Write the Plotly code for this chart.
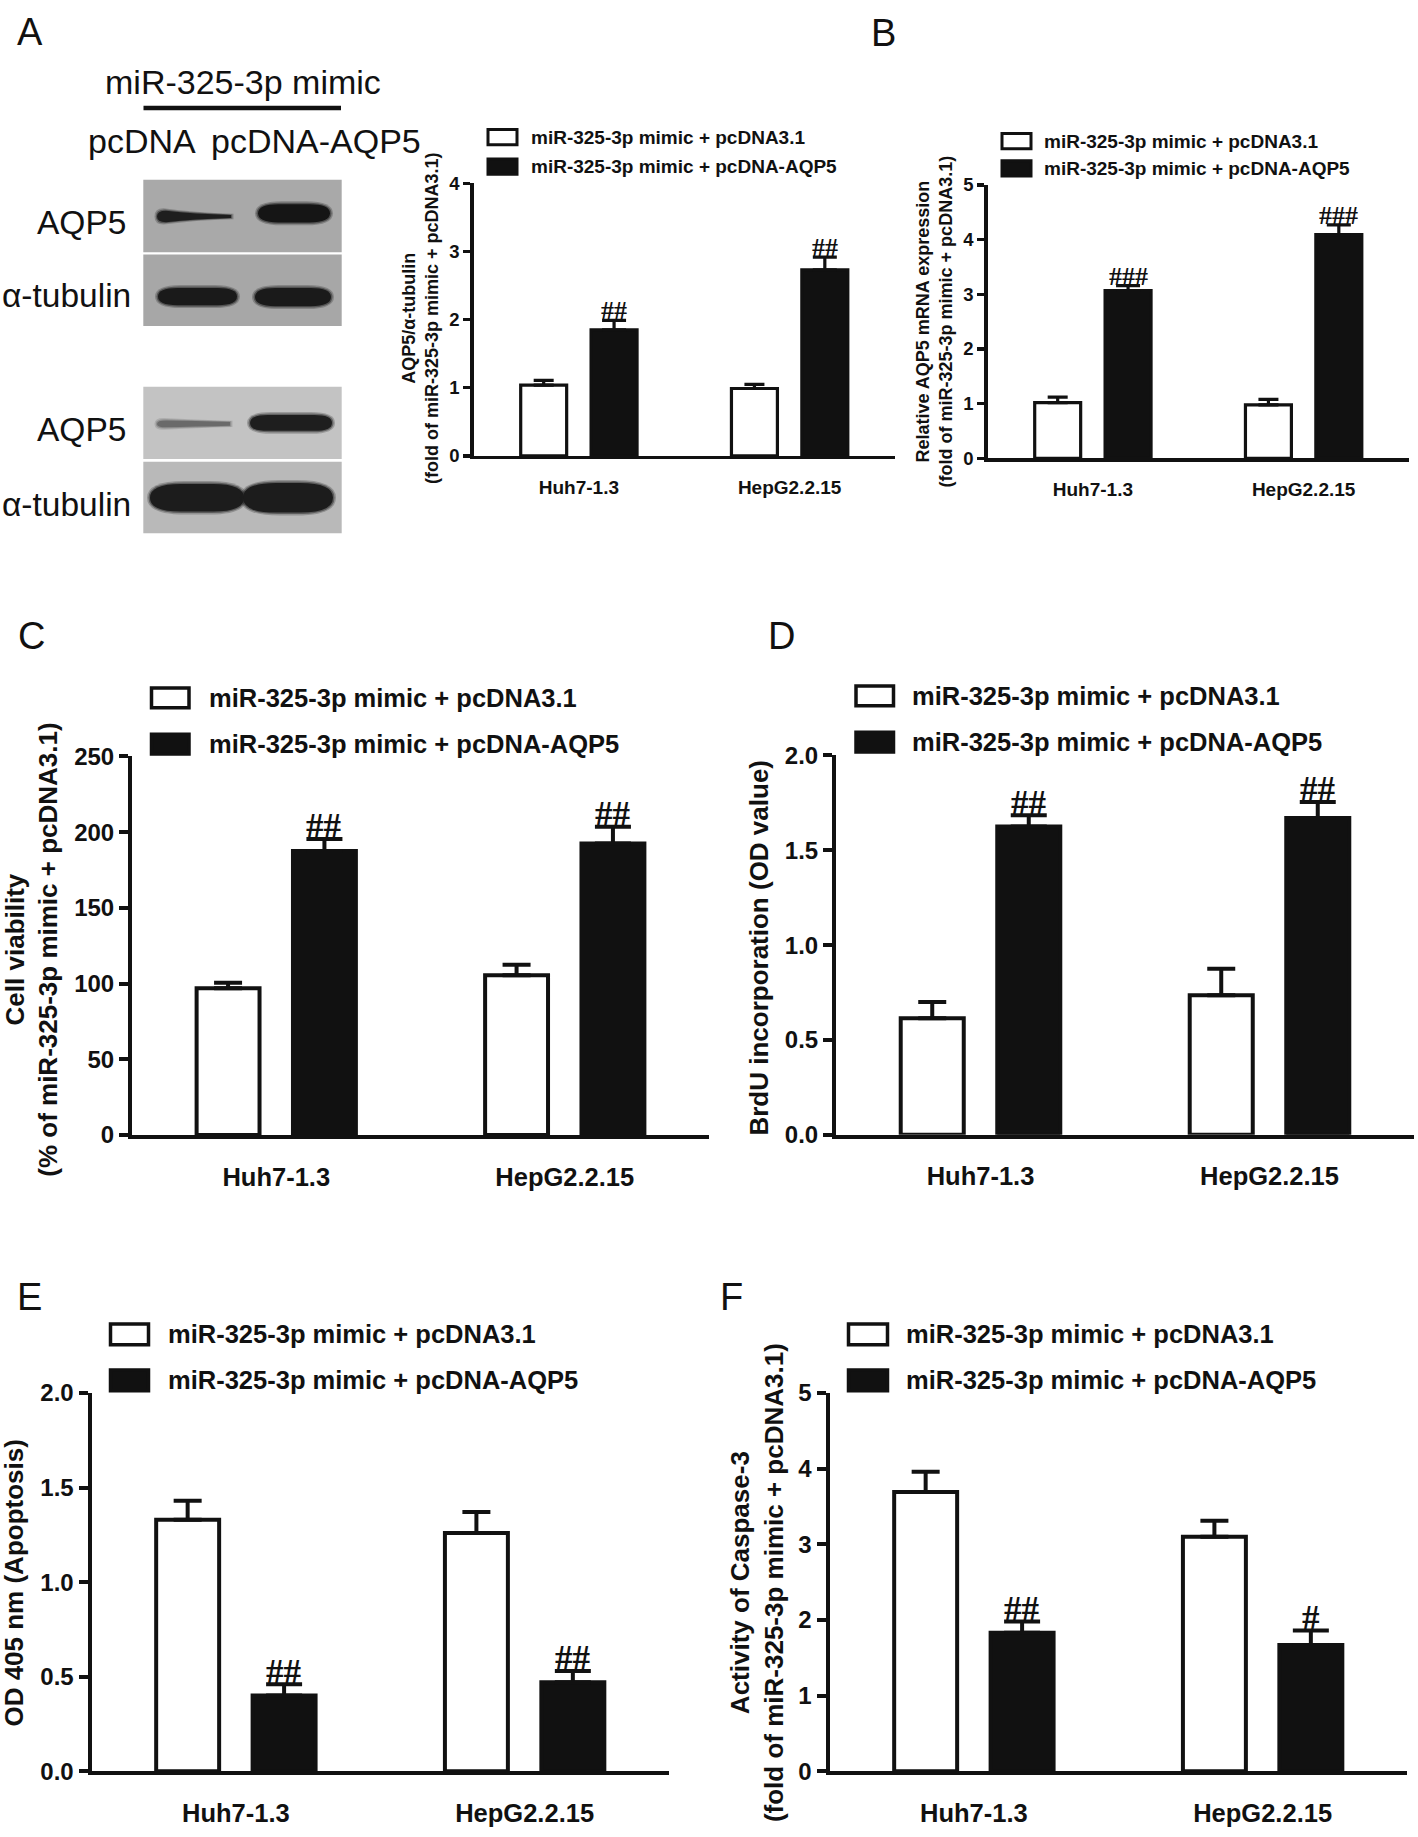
import plotly.graph_objects as go

W, H = 1418, 1837

# ---------------- data ----------------
categories = ["Huh7-1.3", "HepG2.2.15"]
series_ctrl = "miR-325-3p mimic + pcDNA3.1"
series_aqp5 = "miR-325-3p mimic + pcDNA-AQP5"

# A (bar chart): AQP5/alpha-tubulin
prot_ctrl = [1.04, 0.99]
prot_ctrl_err = [0.07, 0.06]
prot_aqp5 = [1.85, 2.73]
prot_aqp5_err = [0.14, 0.19]
prot_marks = ["##", "##"]
prot_ticks = [0, 1, 2, 3, 4]

# B: relative AQP5 mRNA
mrna_ctrl = [1.02, 0.98]
mrna_ctrl_err = [0.10, 0.10]
mrna_aqp5 = [3.07, 4.09]
mrna_aqp5_err = [0.09, 0.18]
mrna_marks = ["###", "###"]
mrna_ticks = [0, 1, 2, 3, 4, 5]

# C: cell viability
via_ctrl = [97.0, 105.5]
via_ctrl_err = [3.5, 7.0]
via_aqp5 = [187.5, 192.5]
via_aqp5_err = [8.0, 11.0]
via_marks = ["##", "##"]
via_ticks = [0, 50, 100, 150, 200, 250]

# D: BrdU incorporation
brdu_ctrl = [0.615, 0.735]
brdu_ctrl_err = [0.085, 0.14]
brdu_aqp5 = [1.625, 1.67]
brdu_aqp5_err = [0.06, 0.085]
brdu_marks = ["##", "##"]
brdu_ticks = [0.0, 0.5, 1.0, 1.5, 2.0]

# E: OD 405 nm (apoptosis)
apo_ctrl = [1.33, 1.26]
apo_ctrl_err = [0.10, 0.11]
apo_aqp5 = [0.40, 0.47]
apo_aqp5_err = [0.06, 0.06]
apo_marks = ["##", "##"]
apo_ticks = [0.0, 0.5, 1.0, 1.5, 2.0]

# F: caspase-3 activity
casp_ctrl = [3.69, 3.10]
casp_ctrl_err = [0.27, 0.21]
casp_aqp5 = [1.83, 1.67]
casp_aqp5_err = [0.15, 0.19]
casp_marks = ["##", "#"]
casp_ticks = [0, 1, 2, 3, 4, 5]

# ---------------- layout constants ----------------
SANS = "Liberation Sans, Arial, Helvetica, sans-serif"
SERIF = "Liberation Serif, Times New Roman, serif"
BLACK = "#111111"


def fx(px):
    return px / W


def fy(py):
    return 1 - py / H


SMALL = dict(tick=18.5, cat=19, leg=19, title=18, hash=26, lw=3.2, ticklen=7,
             errw=(10, 12), catlen=12, boxlw=3)
LARGE = dict(tick=24, cat=25.5, leg=25.5, title=26, hash=35, lw=4, ticklen=9,
             errw=(14, 18), catlen=16, boxlw=3.5)

panels = [
    dict(ctrl=prot_ctrl, ctrl_err=prot_ctrl_err, aqp5=prot_aqp5, aqp5_err=prot_aqp5_err,
         marks=prot_marks, ticks=prot_ticks, fmt="d",
         title=["AQP5/α-tubulin", "(fold of miR-325-3p mimic + pcDNA3.1)"],
         L=473.5, R=895, T=172, B=448.5, st=SMALL, title_xy=(420.5, 309),
         leg=dict(x0=488, x1=517, rows=[125, 155], h=15.5, tx=529),
         letter=None),
    dict(ctrl=mrna_ctrl, ctrl_err=mrna_ctrl_err, aqp5=mrna_aqp5, aqp5_err=mrna_aqp5_err,
         marks=mrna_marks, ticks=mrna_ticks, fmt="d",
         title=["Relative AQP5 mRNA expression", "(fold of miR-325-3p mimic + pcDNA3.1)"],
         L=987.5, R=1409, T=173.5, B=451, st=SMALL, title_xy=(934, 312),
         leg=dict(x0=1002, x1=1031, rows=[129, 156.7], h=15.5, tx=1042),
         letter=("B", 883.5, 19)),
    dict(ctrl=via_ctrl, ctrl_err=via_ctrl_err, aqp5=via_aqp5, aqp5_err=via_aqp5_err,
         marks=via_marks, ticks=via_ticks, fmt="d",
         title=["Cell viability", "(% of miR-325-3p mimic + pcDNA3.1)"],
         L=132, R=709, T=753.5, B=1137.8, st=LARGE, title_xy=(31.7, 950),
         leg=dict(x0=151.5, x1=189, rows=[694, 741], h=20, tx=207),
         letter=("C", 31.5, 631)),
    dict(ctrl=brdu_ctrl, ctrl_err=brdu_ctrl_err, aqp5=brdu_aqp5, aqp5_err=brdu_aqp5_err,
         marks=brdu_marks, ticks=brdu_ticks, fmt=".1f",
         title=["BrdU incorporation (OD value)"],
         L=836, R=1414, T=752.5, B=1137.5, st=LARGE, title_xy=(759, 947.5),
         leg=dict(x0=856, x1=893.5, rows=[692, 739], h=20, tx=910),
         letter=("D", 781.5, 631)),
    dict(ctrl=apo_ctrl, ctrl_err=apo_ctrl_err, aqp5=apo_aqp5, aqp5_err=apo_aqp5_err,
         marks=apo_marks, ticks=apo_ticks, fmt=".1f",
         title=["OD 405 nm (Apoptosis)"],
         L=91.5, R=669, T=1399.5, B=1783.5, st=LARGE, title_xy=(14, 1593),
         leg=dict(x0=110.5, x1=148.5, rows=[1340, 1386.7], h=21, tx=165.5),
         letter=("E", 30, 1302)),
    dict(ctrl=casp_ctrl, ctrl_err=casp_ctrl_err, aqp5=casp_aqp5, aqp5_err=casp_aqp5_err,
         marks=casp_marks, ticks=casp_ticks, fmt="d",
         title=["Activity of Caspase-3", "(fold of miR-325-3p mimic + pcDNA3.1)"],
         L=829.5, R=1407, T=1399.5, B=1783.5, st=LARGE, title_xy=(756.5, 1592),
         leg=dict(x0=848.5, x1=887.5, rows=[1340, 1386.7], h=21, tx=904),
         letter=("F", 731.5, 1302)),
]

fig = go.Figure()
annotations = []
shapes = []

BARGAP = 0.332
BARGROUPGAP = 0.347
half_slot = (1 - BARGAP) / 4.0  # centre offset of each bar in its group

for i, p in enumerate(panels, start=1):
    st = p["st"]
    xa = "x" if i == 1 else f"x{i}"
    ya = "y" if i == 1 else f"y{i}"
    for (name, vals, errs, fill), ew in zip(
            [(series_ctrl, p["ctrl"], p["ctrl_err"], "white"),
             (series_aqp5, p["aqp5"], p["aqp5_err"], BLACK)], st["errw"]):
        fig.add_trace(go.Bar(
            x=categories, y=vals, name=name, xaxis=xa, yaxis=ya, showlegend=False,
            marker=dict(color=fill, line=dict(color=BLACK, width=st["lw"])),
            error_y=dict(type="data", symmetric=False, array=errs, arrayminus=[0] * len(errs),
                         color=BLACK, thickness=st["lw"], width=ew),
        ))
    xkey = "xaxis" if i == 1 else f"xaxis{i}"
    ykey = "yaxis" if i == 1 else f"yaxis{i}"
    ymax = p["ticks"][-1]
    fig.update_layout(**{
        xkey: dict(domain=[fx(p["L"]), fx(p["R"])], anchor=ya, type="category",
                   range=[-0.5, 1.5], showline=True, linecolor=BLACK, linewidth=st["lw"],
                   ticks="outside", ticklen=st["catlen"], tickcolor="rgba(0,0,0,0)",
                   showgrid=False, zeroline=False, fixedrange=True,
                   tickfont=dict(family=SANS, size=st["cat"], color=BLACK, weight="bold")),
        ykey: dict(domain=[fy(p["B"]), fy(p["T"])], anchor=xa, range=[0, ymax],
                   showline=True, linecolor=BLACK, linewidth=st["lw"],
                   ticks="outside", ticklen=st["ticklen"], tickwidth=st["lw"], tickcolor=BLACK,
                   tickvals=p["ticks"], tickformat=p["fmt"],
                   showgrid=False, zeroline=False, fixedrange=True,
                   tickfont=dict(family=SANS, size=st["tick"], color=BLACK, weight="bold")),
    })
    # significance marks above the AQP5 bars
    for k, mark in enumerate(p["marks"]):
        annotations.append(dict(
            x=k + half_slot, y=p["aqp5"][k] + p["aqp5_err"][k], xref=xa, yref=ya,
            text=mark, showarrow=False, xanchor="center", yanchor="bottom",
            yshift=-0.27 * st["hash"],
            font=dict(family=SERIF, size=st["hash"], color=BLACK, weight="bold")))
    # y-axis title
    tx, ty = p["title_xy"]
    annotations.append(dict(
        x=fx(tx), y=fy(ty), xref="paper", yref="paper", text="<br>".join(p["title"]),
        textangle=-90, showarrow=False, xanchor="center", yanchor="middle",
        font=dict(family=SANS, size=st["title"], color=BLACK, weight="bold")))
    # legend
    lg = p["leg"]
    for row, (name, fill) in zip(lg["rows"], [(series_ctrl, "white"), (series_aqp5, BLACK)]):
        shapes.append(dict(type="rect", xref="paper", yref="paper",
                           x0=fx(lg["x0"]), x1=fx(lg["x1"]),
                           y0=fy(row - lg["h"] / 2), y1=fy(row + lg["h"] / 2),
                           fillcolor=fill, line=dict(color=BLACK, width=st["boxlw"])))
        annotations.append(dict(
            x=fx(lg["tx"]), y=fy(row), xref="paper", yref="paper", text=name,
            showarrow=False, xanchor="left", yanchor="middle",
            font=dict(family=SANS, size=st["leg"], color=BLACK, weight="bold")))
    if p["letter"]:
        t, lx, ly = p["letter"]
        annotations.append(dict(x=fx(lx), y=fy(ly), xref="paper", yref="paper", text=t,
                                showarrow=False, xanchor="center", yanchor="middle",
                                font=dict(family=SANS, size=38, color=BLACK)))

# ---------------- panel A: western blot schematic ----------------
annotations.append(dict(x=fx(30), y=fy(18.5), xref="paper", yref="paper", text="A",
                        showarrow=False, xanchor="center", yanchor="middle",
                        font=dict(family=SANS, size=38, color=BLACK)))
blot_text = [("miR-325-3p mimic", 243, 69, "center", 34),
             ("pcDNA", 142, 129, "center", 34),
             ("pcDNA-AQP5", 316, 129, "center", 34),
             ("AQP5", 128, 212, "right", 33.5),
             ("α-tubulin", 133, 286, "right", 33.5),
             ("AQP5", 128, 422, "right", 33.5),
             ("α-tubulin", 133, 498, "right", 33.5)]
for t, x, y, anc, sz in blot_text:
    annotations.append(dict(x=fx(x), y=fy(y), xref="paper", yref="paper", text=t,
                            showarrow=False, xanchor=anc, yanchor="middle",
                            font=dict(family=SANS, size=sz, color=BLACK)))
shapes.append(dict(type="line", xref="paper", yref="paper", x0=fx(143.5), x1=fx(341),
                   y0=fy(95.4), y1=fy(95.4), line=dict(color=BLACK, width=4.5)))

membranes = [(143.3, 341.7, 168.3, 241.7, "#a9a9a9"),
             (143.3, 341.7, 244.0, 316.7, "#a7a7a7"),
             (143.3, 341.7, 378.3, 451.7, "#c3c3c3"),
             (143.3, 341.7, 454.5, 527.0, "#b9b9b9")]
for x0, x1, y0, y1, c in membranes:
    shapes.append(dict(type="rect", xref="paper", yref="paper", x0=fx(x0), x1=fx(x1),
                       y0=fy(y1), y1=fy(y0), fillcolor=c, line=dict(width=0), layer="above"))


def path_str(segs):
    s = ""
    for seg in segs:
        coords = seg[1:]
        out = [f"{fx(coords[j]):.5f},{fy(coords[j + 1]):.5f}" for j in range(0, len(coords), 2)]
        s += seg[0] + " ".join(out) + " "
    return s + "Z"


def band_path(x0, x1, y0, y1):
    r = min((x1 - x0) / 2, (y1 - y0) * 1.1)
    ym = (y0 + y1) / 2
    return path_str([("M", x0 + r, y0), ("L", x1 - r, y0), ("Q", x1, y0, x1, ym),
                     ("Q", x1, y1, x1 - r, y1), ("L", x0 + r, y1), ("Q", x0, y1, x0, ym),
                     ("Q", x0, y0, x0 + r, y0)])


def taper_path(x0, x1, yc, h0, h1):
    return path_str([("M", x0 + 9, yc - h0 / 2), ("Q", (x0 + x1) / 2, yc - h1 / 2 - 1, x1, yc - h1 / 2),
                     ("L", x1, yc + h1 / 2), ("Q", (x0 + x1) / 2, yc + h1 / 2 + 1, x0 + 9, yc + h0 / 2),
                     ("Q", x0, yc + h0 / 2, x0, yc), ("Q", x0, yc - h0 / 2, x0 + 9, yc - h0 / 2)])


def soft_band(x0, x1, y0, y1, color):
    for grow, op in [(3.0, 0.25), (1.5, 0.45), (0.0, 1.0)]:
        shapes.append(dict(type="path", xref="paper", yref="paper",
                           path=band_path(x0 - grow, x1 + grow, y0 - grow, y1 + grow),
                           fillcolor=color, opacity=op, line=dict(width=0), layer="above"))


def soft_taper(x0, x1, yc, h0, h1, color):
    for grow, op in [(2.5, 0.25), (1.2, 0.45), (0.0, 1.0)]:
        shapes.append(dict(type="path", xref="paper", yref="paper",
                           path=taper_path(x0 - grow, x1 + grow, yc, h0 + 2 * grow, h1 + grow),
                           fillcolor=color, opacity=op, line=dict(width=0), layer="above"))


soft_taper(157, 231, 205.5, 11.5, 3, "#1e1e1e")
soft_band(258, 330, 193, 211.5, "#151515")
soft_band(158, 237, 278, 295.5, "#1a1a1a")
soft_band(255, 331, 278, 296.5, "#1a1a1a")
soft_taper(157, 230, 416, 7, 4, "#6a6a6a")
soft_band(250, 332, 407, 423, "#1e1e1e")
soft_band(150, 244, 477, 505, "#1c1c1c")
soft_band(243, 333, 476, 506, "#1c1c1c")

fig.update_layout(width=W, height=H, margin=dict(l=0, r=0, t=0, b=0),
                  paper_bgcolor="white", plot_bgcolor="white",
                  barmode="group", bargap=BARGAP, bargroupgap=BARGROUPGAP,
                  annotations=annotations, shapes=shapes, showlegend=False,
                  font=dict(family=SANS, color=BLACK))

fig.write_html("out.html", config={"displayModeBar": False, "staticPlot": True},
               post_script="document.body.style.margin='0';document.body.style.padding='0';"
                           "document.body.style.overflow='hidden';")
